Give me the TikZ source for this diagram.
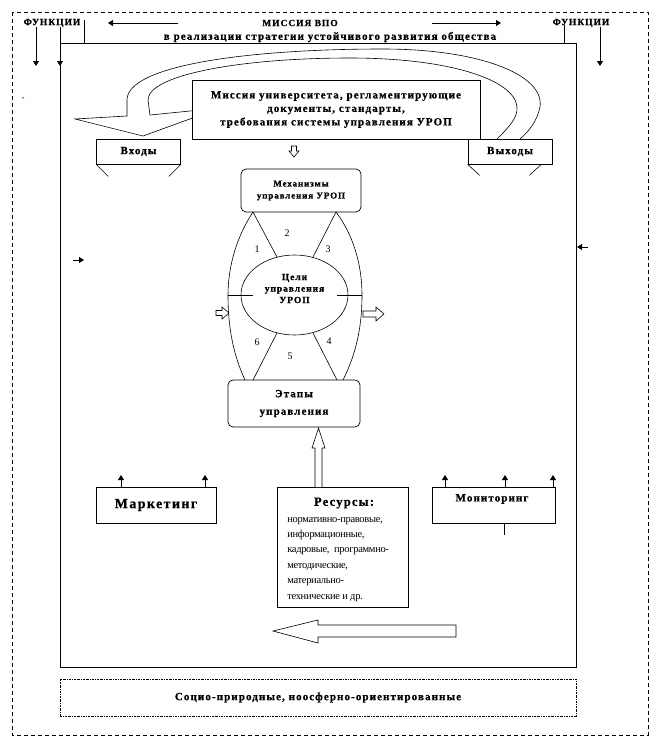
\documentclass[tikz,border=0pt]{standalone}
\usepackage{fontspec}
\setmainfont{Liberation Serif}
\newfontfamily\spaced[LetterSpace=10, BoldFeatures={FakeBold=0.8}]{Liberation Serif}
\newfontfamily\tight[LetterSpace=-3]{Liberation Serif}
\usetikzlibrary{arrows.meta,shapes.geometric}
\newcommand{\fsz}[2]{\fontsize{#1}{#2}\selectfont}
\tikzset{
  T/.style={inner sep=0pt, align=center, font=\spaced\bfseries\fsz{11}{13.5}},
  box/.style={draw, line width=0.7pt, fill=white, inner sep=0pt},
  rbox/.style={box, rounded corners=5pt},
  tri/.style={-{Triangle[length=5pt,width=6pt]}, line width=0.8pt},
  hollow/.style={draw, fill=white, line width=0.6pt},
  num/.style={inner sep=0pt, font=\fsz{10}{10}},
  thinl/.style={line width=0.6pt}
}
\begin{document}
\begin{tikzpicture}[x=1pt,y=-1pt,line width=0.6pt]
\useasboundingbox (0,0) rectangle (672,739);
% outer dashed frame
\draw[line width=0.7pt, dash pattern=on 4pt off 3pt] (12,12) rectangle (648,735);
% inner frame
\node (frame) [draw, line width=1pt, minimum width=516pt, minimum height=624pt, inner sep=0pt] at (318,355) {};

% header
\node (fl) [T, font=\spaced\bfseries\fsz{9.5}{11}] at (52,23) {ФУНКЦИИ};
\node (fr) [T, font=\spaced\bfseries\fsz{9.5}{11}] at (581,23) {ФУНКЦИИ};
\node (mis) [T, font=\spaced\bfseries\fsz{9.5}{11}] at (300,23) {МИССИЯ ВПО};
\node (sub) [T, font=\spaced\bfseries\fsz{11}{13}] at (330,37) {в реализации стратегии устойчивого развития общества};
\coordinate (alS) at (178,23); \coordinate (alE) at (108,23);
\coordinate (arS) at (432,23); \coordinate (arE) at (501,23);
\draw[tri] (alS) -- (alE);
\draw[tri] (arS) -- (arE);
\coordinate (f1a) at (36,27); \coordinate (f1b) at (36,66);
\coordinate (f2a) at (60,27); \coordinate (f2b) at (60,66);
\coordinate (f3a) at (600,27); \coordinate (f3b) at (600,66);
\draw[tri] (f1a) -- (f1b);
\draw[tri] (f2a) -- (f2b);
\draw[tri] (f3a) -- (f3b);
\coordinate (t1a) at (84,20); \coordinate (t1b) at (84,43);
\coordinate (t2a) at (564,25); \coordinate (t2b) at (564,43);
\draw[thinl] (t1a) -- (t1b);
\draw[thinl] (t2a) -- (t2b);
\node (stray) [num, font=\fsz{9}{9}] at (23,99) {-};
% side small arrows
\coordinate (s1a) at (73,260); \coordinate (s1b) at (84,260);
\coordinate (s2a) at (588,247); \coordinate (s2b) at (577,247);
\draw[tri] (s1a) -- (s1b);
\draw[tri] (s2a) -- (s2b);

% big curved hollow arrow
\draw[fill=white, line width=0.6pt]
  (520,139) .. controls (528,132) and (537,122) .. (540,107)
  .. controls (545,75) and (480,49) .. (383,49)
  .. controls (250,49) and (127,65) .. (127,100)
  -- (127,116) -- (75,119) -- (143,136) -- (220,108) -- (150,115)
  -- (148,100) .. controls (148,75) and (240,58) .. (350,58)
  .. controls (450,58) and (515,80) .. (517,107)
  .. controls (518,118) and (508,128) .. (497,139);

% mission box
\node (miss) [box, T, minimum width=288pt, minimum height=59pt, font=\spaced\bfseries\fsz{11}{13.5}] at (336,109.5)
  {Миссия университета, регламентирующие\\документы, стандарты,\\требования системы управления УРОП};
% inputs / outputs
\node (vh) [box, T, minimum width=84pt, minimum height=25pt] at (138.5,151.5) {Входы};
\node (vy) [box, T, minimum width=84pt, minimum height=25pt] at (510,151.5) {Выходы};
\draw[thinl] (vh.south west) -- ++(12,12);
\draw[thinl] (vh.south east) -- ++(-12,12);
\draw[thinl] (vy.south west) -- ++(12,11);
\draw[thinl] ([xshift=-11pt]vy.south east) -- ++(-12,11);
% small down hollow arrow
\draw[hollow] (291.5,146) -- (296.5,146) -- (296.5,151) -- (299,151) -- (294,157) -- (289,151) -- (291.5,151) -- cycle;

% mechanisms
\node (mech) [rbox, T, minimum width=120pt, minimum height=43pt, font=\spaced\bfseries\fsz{9}{12}] at (301,190.5)
  {Механизмы\\управления УРОП};
% goals ellipse
\node (goal) [draw, ellipse, line width=0.6pt, minimum width=107pt, minimum height=80pt, inner sep=0pt] at (294.5,295) {};
\node (goalt) [T, font=\spaced\bfseries\fsz{9.5}{11.5}] at (294.5,288.5) {Цели\\управления\\УРОП};
% stages
\node (stage) [rbox, T, minimum width=132pt, minimum height=47pt, font=\spaced\bfseries\fsz{11}{17.5}] at (294,403.5)
  {Этапы\\управления};

% lens
\coordinate (mL) at (253,212); \coordinate (mR) at (336,212);
\coordinate (eL) at (245,380); \coordinate (eR) at (343,380);
\coordinate (cL) at (228,295); \coordinate (cR) at (362,295);
\draw[thinl] (mL) .. controls (237,236) and (228,266) .. (cL) .. controls (228,330) and (234,356) .. (eL);
\draw[thinl] (mR) .. controls (354,236) and (362,266) .. (cR) .. controls (362,330) and (355,356) .. (eR);
\coordinate (g1) at (277,257); \coordinate (g3) at (313,257);
\coordinate (g6) at (277,333); \coordinate (g4) at (313,333);
\coordinate (b6) at (253,380); \coordinate (b4) at (337,380);
\coordinate (hl) at (253,295); \coordinate (hr) at (337,295);
\draw[thinl] (mL) -- (g1);
\draw[thinl] (mR) -- (g3);
\draw[thinl] (g6) -- (b6);
\draw[thinl] (g4) -- (b4);
\draw[thinl] (cL) -- (hl);
\draw[thinl] (hr) -- (cR);
\node (n1) [num] at (257,249) {1};
\node (n2) [num] at (287,233) {2};
\node (n3) [num] at (328,249) {3};
\node (n6) [num] at (257,342) {6};
\node (n5) [num] at (290,356) {5};
\node (n4) [num] at (329,341) {4};
% side hollow arrows
\draw[hollow] (216,310.5) -- (222,310.5) -- (222,307) -- (229,313) -- (222,319) -- (222,315.5) -- (216,315.5) -- cycle;
\draw[hollow] (363,311) -- (376,311) -- (376,307) -- (384,314) -- (376,321) -- (376,317) -- (363,317) -- cycle;

% resources
\node (res) [box, minimum width=131pt, minimum height=120pt] at (342.5,547) {};
\node (rest) [T, font=\spaced\bfseries\fsz{12.5}{14}] at (344,503) {Ресурсы:};
\node (resb) [inner sep=0pt, align=left, anchor=north west, font=\tight\fsz{10.5}{15.4}] at (287,511)
  {\strut нормативно-правовые,\\информационные,\\кадровые, \ программно-\\методические,\\материально-\\технические и др.};
% up hollow arrow into stages
\draw[hollow] (315,487) -- (315,448) -- (312,448) -- (318.5,428) -- (325,448) -- (322,448) -- (322,487);

% marketing
\node (mark) [box, T, minimum width=120pt, minimum height=36pt, font=\spaced\bfseries\fsz{14}{16}] at (156,505) {Маркетинг};
\coordinate (ma1) at (121,487); \coordinate (ma1e) at (121,475);
\coordinate (ma2) at (205,487); \coordinate (ma2e) at (205,475);
\draw[tri] (ma1) -- (ma1e);
\draw[tri] (ma2) -- (ma2e);
% monitoring
\node (mon) [box, minimum width=123pt, minimum height=36pt] at (493.5,505) {};
\node (mont) [T, font=\spaced\bfseries\fsz{11}{13}] at (492,499) {Мониторинг};
\coordinate (mo1) at (445,487); \coordinate (mo1e) at (445,475);
\coordinate (mo2) at (505,487); \coordinate (mo2e) at (505,475);
\coordinate (mo3) at (553,487); \coordinate (mo3e) at (553,475);
\draw[tri] (mo1) -- (mo1e);
\draw[tri] (mo2) -- (mo2e);
\draw[tri] (mo3) -- (mo3e);
\coordinate (mob) at (504,523); \coordinate (mobe) at (504,535);
\draw[thinl] (mob) -- (mobe);

% big left hollow arrow
\draw[hollow] (273,631) -- (318,620) -- (318,625) -- (456,625) -- (456,637) -- (318,637) -- (318,643) -- cycle;

% bottom dotted box
\node (soc) [draw, line width=0.6pt, dash pattern=on 2pt off 1pt on 0.6pt off 1pt, minimum width=516pt, minimum height=37pt, T, font=\spaced\bfseries\fsz{11}{13}] at (318,697.5)
  {Социо-природные, ноосферно-ориентированные};
\end{tikzpicture}
\end{document}
